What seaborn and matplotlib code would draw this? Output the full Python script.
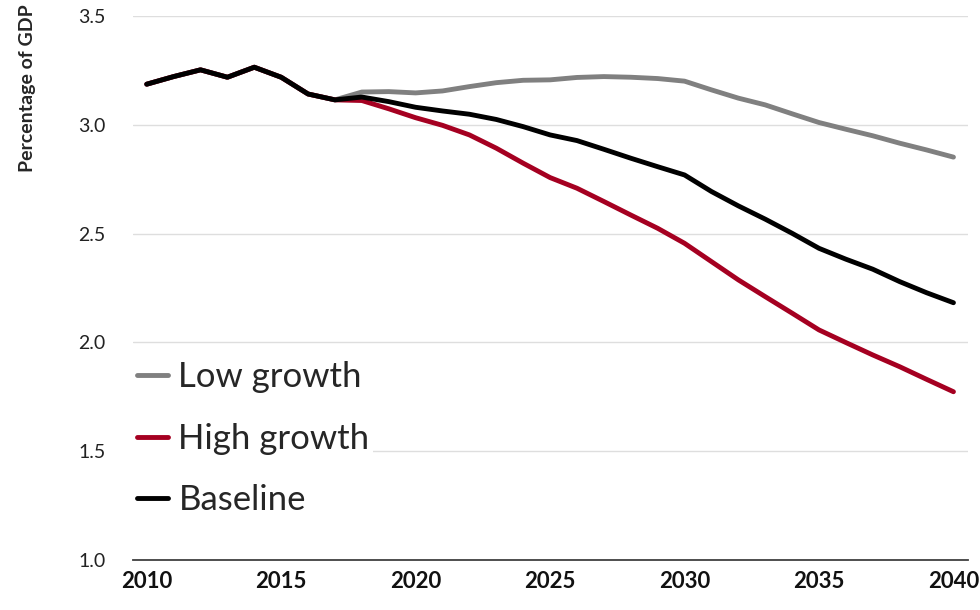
import pandas as pd
import seaborn as sns
import matplotlib.pyplot as plt

# values (percentage of GDP)
years = list(range(2010, 2041))
baseline = [3.186, 3.221, 3.252, 3.218, 3.264, 3.218, 3.141, 3.114,
            3.127, 3.106, 3.080, 3.063, 3.048, 3.024, 2.991, 2.953,
            2.927, 2.887, 2.846, 2.807, 2.769, 2.693, 2.627, 2.566,
            2.501, 2.432, 2.382, 2.336, 2.279, 2.228, 2.182]
high_growth = [3.186, 3.221, 3.252, 3.218, 3.264, 3.218, 3.141, 3.114,
               3.111, 3.073, 3.032, 2.997, 2.953, 2.892, 2.823, 2.757,
               2.708, 2.647, 2.585, 2.524, 2.455, 2.371, 2.287, 2.210,
               2.134, 2.057, 1.999, 1.942, 1.888, 1.830, 1.773]
low_growth = [3.186, 3.221, 3.252, 3.218, 3.264, 3.218, 3.141, 3.114,
              3.150, 3.152, 3.146, 3.155, 3.175, 3.193, 3.204, 3.206,
              3.217, 3.221, 3.218, 3.212, 3.200, 3.160, 3.122, 3.091,
              3.050, 3.010, 2.979, 2.949, 2.915, 2.884, 2.851]

scenarios = ['Low growth', 'High growth', 'Baseline']
colours = ['#808080', '#a50021', '#000000']
y_ticks = [1.0, 1.5, 2.0, 2.5, 3.0, 3.5]
x_ticks = [2010, 2015, 2020, 2025, 2030, 2035, 2040]

sns.set_style("white")
plt.rcParams['font.family'] = ['Lato', 'DejaVu Sans']


def main():
    df = pd.DataFrame({
        'year': years * 3,
        'value': low_growth + high_growth + baseline,
        'scenario': [scenarios[0]] * len(years) + [scenarios[1]] * len(years)
                    + [scenarios[2]] * len(years),
    })

    fig = plt.figure(figsize=(9.8, 6.1), dpi=100)
    ax = fig.add_axes([0.136, 0.082, 0.852, 0.892])

    sns.lineplot(data=df, x='year', y='value', hue='scenario',
                 hue_order=scenarios, palette=colours, linewidth=3.5,
                 ax=ax)

    ax.set_xlim(2009.5, 2040.55)
    ax.set_ylim(1.0, 3.5)
    ax.set_yticks(y_ticks)
    ax.set_yticklabels(['%.1f' % v for v in y_ticks], fontsize=14,
                       color='#222222')
    ax.set_xticks(x_ticks)
    ax.set_xticklabels([str(v) for v in x_ticks], fontsize=16,
                       fontweight='bold', color='#111111')
    ax.tick_params(axis='y', length=0, pad=20)
    ax.tick_params(axis='x', length=0, pad=8)

    ax.yaxis.grid(True, color='#dedede', linewidth=1)
    ax.set_axisbelow(True)
    for side in ['top', 'right', 'left']:
        ax.spines[side].set_visible(False)
    ax.spines['bottom'].set_color('#404040')
    ax.spines['bottom'].set_linewidth(1.3)

    ax.set_xlabel('')
    ax.set_ylabel('Percentage of GDP', fontsize=14, fontweight='bold')
    ax.yaxis.set_label_coords(-0.116, 0.868)

    leg = ax.legend(loc='lower left', bbox_to_anchor=(0.0, 0.074),
                    fontsize=25, frameon=True, handlelength=0.9,
                    handletextpad=0.3, labelspacing=0.85,
                    borderpad=0.1, borderaxespad=0)
    leg.get_frame().set_facecolor('white')
    leg.get_frame().set_edgecolor('none')
    leg.get_frame().set_alpha(1)
    for line in leg.get_lines():
        line.set_linewidth(3.5)

    plt.savefig('out.png', dpi=100)


if __name__ == '__main__':
    main()
